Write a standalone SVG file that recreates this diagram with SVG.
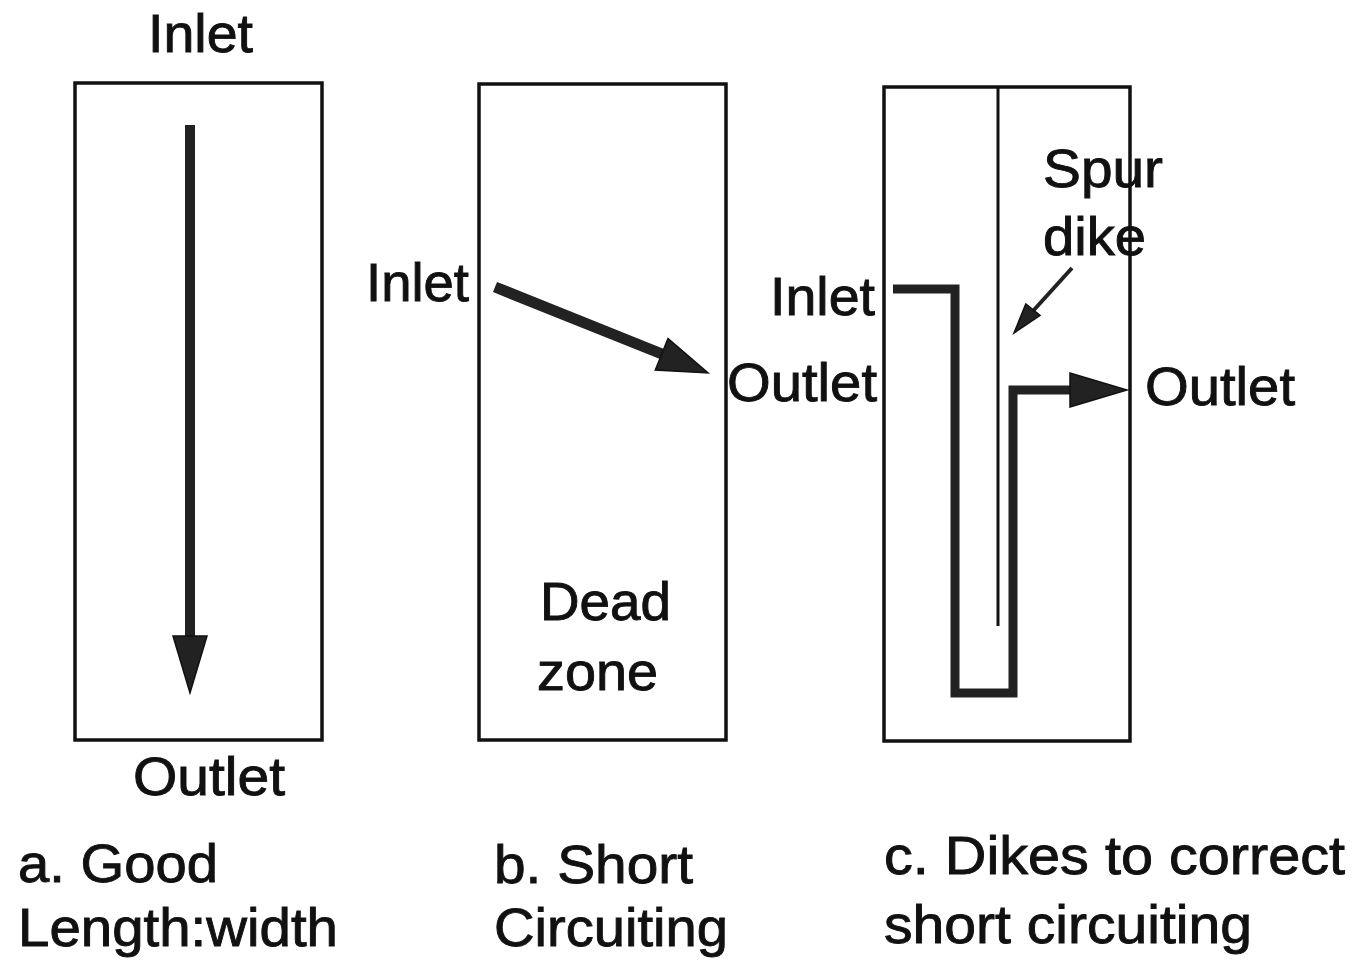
<svg xmlns="http://www.w3.org/2000/svg" width="1360" height="966" viewBox="0 0 1360 966">
<style>
.box{fill:none;stroke:#111;stroke-width:3.5}
.flow{fill:none;stroke:#222;stroke-width:9;stroke-linejoin:miter}
.head{fill:#222;stroke:#111;stroke-width:1.5;stroke-linejoin:miter}
text{font-family:"Liberation Sans",Arial,sans-serif;font-size:53px;fill:#111;stroke:#111;stroke-width:0.9}
</style>
<rect width="1360" height="966" fill="#fff"/>
<g id="panel-a">
<rect class="box" x="75" y="83" width="247" height="657"/>
<text x="148" y="52" textLength="105" lengthAdjust="spacingAndGlyphs">Inlet</text>
<text x="133" y="795" textLength="152" lengthAdjust="spacingAndGlyphs">Outlet</text>
<text x="18" y="882" textLength="200" lengthAdjust="spacingAndGlyphs">a. Good</text>
<text x="18" y="946" textLength="320" lengthAdjust="spacingAndGlyphs">Length:width</text>
</g>
<g id="panel-b">
<rect class="box" x="479" y="84" width="247" height="656"/>
<text x="366" y="301" textLength="103" lengthAdjust="spacingAndGlyphs">Inlet</text>
<text x="727" y="401" textLength="150" lengthAdjust="spacingAndGlyphs">Outlet</text>
<text x="540" y="620" textLength="131" lengthAdjust="spacingAndGlyphs">Dead</text>
<text x="537" y="690" textLength="121" lengthAdjust="spacingAndGlyphs">zone</text>
<text x="494" y="883" textLength="199" lengthAdjust="spacingAndGlyphs">b. Short</text>
<text x="494" y="946" textLength="234" lengthAdjust="spacingAndGlyphs">Circuiting</text>
</g>
<g id="panel-c">
<rect class="box" x="884" y="87" width="246" height="654"/>
<line x1="998" y1="87" x2="998" y2="626" stroke="#111" stroke-width="3"/>
<text x="770" y="315" textLength="105" lengthAdjust="spacingAndGlyphs">Inlet</text>
<text x="1145" y="405" textLength="150" lengthAdjust="spacingAndGlyphs">Outlet</text>
<text x="1043" y="187" textLength="120" lengthAdjust="spacingAndGlyphs">Spur</text>
<text x="1043" y="255" textLength="103" lengthAdjust="spacingAndGlyphs">dike</text>
<text x="884" y="874" textLength="461" lengthAdjust="spacingAndGlyphs">c. Dikes to correct</text>
<text x="884" y="943" textLength="368" lengthAdjust="spacingAndGlyphs">short circuiting</text>
</g>
<g id="connectors">
<line x1="190" y1="125" x2="190" y2="640" stroke="#222" stroke-width="10"/>
<polygon class="head" points="173,636 207,636 190,693"/>
<line x1="495" y1="287" x2="662" y2="354" stroke="#222" stroke-width="11"/>
<polygon class="head" points="668,338.6 655.3,370 708,373"/>
<path class="flow" d="M893,289 H955 V693 H1013 V390 H1072"/>
<polygon class="head" points="1070,373 1070,407 1127,390"/>
<line x1="1072" y1="268" x2="1033" y2="311" stroke="#222" stroke-width="4"/>
<polygon class="head" points="1040,315.4 1025.8,304 1014,333"/>
</g>
</svg>
